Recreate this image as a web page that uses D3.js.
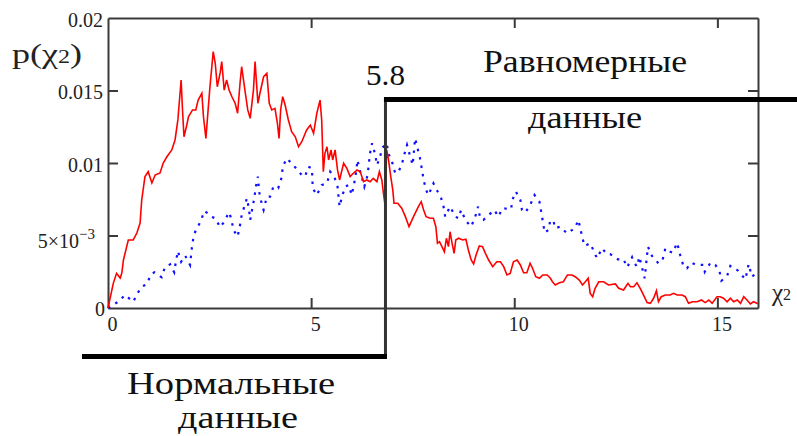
<!DOCTYPE html>
<html><head><meta charset="utf-8"><script src="https://cdn.jsdelivr.net/npm/d3@7"></script></head>
<body style="margin:0">
<svg id="s" width="797" height="436"></svg>
<script>
// ---- Data ----
const redX = [0,0.13,0.21,0.30,0.34,0.38,0.46,0.50,0.62,0.71,0.79,0.83,0.91,0.99,1.08,1.16,1.28,1.36,1.45,1.57,1.65,1.72,1.80,1.83,1.87,1.94,1.98,2.08,2.16,2.22,2.31,2.35,2.41,2.47,2.51,2.59,2.64,2.69,2.76,2.80,2.86,2.92,2.98,3.05,3.13,3.19,3.25,3.29,3.37,3.44,3.50,3.58,3.62,3.69,3.74,3.83,3.91,3.97,4.03,4.11,4.17,4.21,4.25,4.30,4.36,4.44,4.52,4.61,4.69,4.77,4.89,4.98,5.06,5.14,5.22,5.26,5.30,5.34,5.39,5.43,5.49,5.53,5.59,5.65,5.70,5.76,5.80,5.88,5.96,6.04,6.13,6.21,6.29,6.37,6.45,6.53,6.62,6.68,6.74,6.78,6.82,6.86,6.90,6.96,7.01,7.04,7.13,7.23,7.32,7.41,7.52,7.64,7.71,7.77,7.83,7.93,8.01,8.07,8.11,8.16,8.22,8.28,8.33,8.38,8.42,8.47,8.52,8.56,8.63,8.73,8.81,8.87,8.94,9.00,9.06,9.14,9.22,9.29,9.37,9.47,9.57,9.66,9.74,9.82,9.90,9.98,10.07,10.15,10.23,10.31,10.39,10.45,10.53,10.62,10.70,10.81,10.89,10.94,11.01,11.11,11.21,11.31,11.42,11.50,11.60,11.68,11.75,11.82,11.87,11.93,11.99,12.08,12.20,12.32,12.49,12.57,12.69,12.80,12.86,12.94,13.02,13.10,13.18,13.27,13.35,13.43,13.50,13.55,13.62,13.72,13.84,13.92,14.01,14.13,14.21,14.29,14.39,14.50,14.61,14.70,14.79,14.87,14.99,15.07,15.15,15.24,15.32,15.40,15.49,15.57,15.65,15.73,15.81,15.89,15.98,16.00];
const redY = [0,1.70,2.39,2.07,2.41,3.31,4.23,4.69,4.69,5.17,5.86,7.45,9.06,9.40,8.62,9.17,9.31,10.00,10.43,10.90,11.59,12.97,15.72,13.88,11.81,12.62,13.19,13.66,13.66,14.34,14.81,13.19,11.70,13.88,15.26,17.68,16.88,15.26,16.21,16.99,15.03,15.72,15.03,14.57,14.12,13.43,15.50,16.64,15.03,13.66,13.08,15.03,16.99,14.12,14.81,15.95,16.19,14.12,13.66,13.77,12.74,11.70,13.66,14.57,14.00,12.97,12.16,11.81,11.12,11.47,12.28,12.62,12.05,13.43,14.34,12.97,9.40,10.67,11.12,10.21,10.90,10.21,10.90,9.52,8.83,9.52,9.98,9.63,9.06,9.29,9.52,9.40,8.71,8.83,8.71,8.94,8.71,9.40,8.83,7.91,7.10,10.90,10.32,9.06,8.14,7.22,7.22,6.88,6.30,5.61,6.30,6.99,7.33,6.76,6.30,6.19,6.19,5.61,4.46,4.57,4.23,3.88,4.81,4.23,5.26,4.46,3.77,4.69,4.81,4.69,4.74,4.00,3.31,3.03,3.66,4.28,4.23,3.77,3.31,2.85,3.19,3.19,2.85,2.28,2.39,3.19,3.31,2.97,2.43,2.43,3.08,2.74,2.16,2.05,2.28,2.28,2.05,1.81,1.59,1.74,1.81,2.28,2.28,2.16,1.93,1.59,1.81,2.05,1.01,0.78,1.36,1.81,1.81,1.59,1.66,1.36,1.24,1.70,1.47,1.47,1.74,1.36,0.90,0.37,0.32,0.67,1.19,0.43,0.78,0.90,0.90,1.01,0.90,0.90,0.78,0.32,0.43,0.43,0.55,0.37,0.55,0.32,0.78,0.78,0.67,0.43,0.67,0.43,0.55,0.32,0.78,0.55,0.28,0.43,0.32,0.32].map(v => v / 1000);

const blueX = [0,0.25,0.42,0.62,0.75,0.83,0.95,1.06,1.14,1.32,1.40,1.53,1.63,1.67,1.72,1.80,1.90,2.02,2.06,2.10,2.16,2.28,2.37,2.46,2.54,2.64,2.76,2.86,2.98,3.03,3.09,3.19,3.25,3.29,3.42,3.47,3.50,3.60,3.64,3.69,3.72,3.79,3.83,3.91,3.99,4.07,4.19,4.28,4.30,4.40,4.56,4.77,4.85,4.93,5.02,5.04,5.14,5.26,5.39,5.47,5.57,5.65,5.70,5.76,5.84,5.92,6.00,6.06,6.11,6.14,6.21,6.31,6.39,6.45,6.50,6.58,6.62,6.70,6.74,6.86,6.90,6.99,7.07,7.15,7.23,7.29,7.36,7.44,7.50,7.56,7.62,7.68,7.73,7.77,7.83,7.89,8.01,8.07,8.20,8.26,8.30,8.42,8.55,8.63,8.69,8.81,8.94,9.04,9.11,9.16,9.24,9.37,9.51,9.61,9.71,9.92,9.96,10.04,10.15,10.19,10.27,10.39,10.50,10.62,10.67,10.75,10.84,10.89,10.97,11.01,11.13,11.30,11.49,11.58,11.67,11.73,11.87,12.00,12.04,12.16,12.28,12.36,12.55,12.69,12.78,12.90,12.94,13.02,13.08,13.15,13.21,13.24,13.29,13.39,13.55,13.65,13.72,13.79,13.90,14.01,14.09,14.17,14.25,14.36,14.48,14.66,14.69,14.83,14.95,15.05,15.10,15.24,15.32,15.49,15.69,15.77,15.85,16.00];
const blueY = [0,0.43,0.90,0.43,1.12,1.47,1.63,2.32,2.46,2.12,2.81,3.01,2.46,3.19,3.93,3.19,3.61,2.97,4.05,4.81,5.38,5.95,6.69,6.53,6.30,6.19,5.57,5.95,6.60,6.19,5.38,4.92,5.72,6.41,7.57,6.81,6.07,7.57,8.37,9.06,8.02,7.10,6.76,7.68,7.68,8.37,8.26,9.06,9.74,10.32,9.86,9.17,9.06,9.74,9.63,8.26,7.79,8.48,8.60,9.40,9.06,8.37,6.99,7.68,8.37,8.48,7.79,8.60,9.40,10.21,9.40,8.37,9.17,10.67,11.36,10.55,9.86,10.43,11.01,11.36,10.67,10.09,9.29,9.40,9.86,10.55,11.24,10.43,9.86,11.70,11.01,10.32,9.52,8.83,8.14,7.79,8.60,8.26,7.57,6.99,6.30,6.99,6.30,6.19,6.76,6.00,5.61,6.30,6.99,6.19,6.07,6.41,6.76,6.30,6.88,6.81,7.50,8.02,7.45,6.76,6.57,7.10,7.79,7.33,6.53,5.19,5.38,6.07,5.95,5.50,5.61,5.15,5.50,6.07,4.92,4.28,4.46,3.66,3.43,4.12,3.72,3.72,3.36,3.36,2.81,3.50,3.19,2.85,3.54,2.74,2.05,2.85,4.23,3.59,3.08,3.31,4.12,3.93,3.81,4.50,3.59,2.85,2.74,3.12,2.97,2.97,2.50,3.12,2.97,2.57,1.88,2.21,2.90,2.62,1.98,3.03,2.16,2.50].map(v => v / 1000);

const xDomain = [0, 16];
const yDomain = [0, 0.02];
const xTickValues = [0, 5, 10, 15];
const xTickLabels = ["0", "5", "10", "15"];
const yTickValues = [0, 0.005, 0.01, 0.015, 0.02];
const yTickLabels = ["0", "5×10|−3", "0.01", "0.015", "0.02"];

// boundary ("5.8") step between normal and uniform data, in data units
const stepX = 6.83;
const upperLevel = 0.01438;
const lowerLevel = -0.00334;
const stepStartX = -0.64;
const stepEndX = 16.98;

const svg = d3.select("#s");
const W = 797, H = 436;
const margin = {left: 108, top: 18, right: 39, bottom: 128};
const x = d3.scaleLinear().domain(xDomain).range([margin.left, W - margin.right]);
const y = d3.scaleLinear().domain(yDomain).range([H - margin.bottom, margin.top]);

const axisColor = "#3a3a3a";
const labelColor = "#222";
const FONT = "'Liberation Serif', monospace";

// Texts first (same way as a plain text page)
function addText(txt, x0, yb, size, w) {
  const t = svg.append("text").attr("x", x0).attr("y", yb)
    .style("font-family", FONT).style("font-size", size + "px").attr("fill", "#111").text(txt);
  if (w) t.attr("textLength", w).attr("lengthAdjust", "spacingAndGlyphs");
  return t;
}
addText("5.8", 366, 85, 29, 39);
addText("Равномерные", 483, 72, 32, 204);
addText("данные", 528, 128, 32, 114);
addText("Нормальные", 127, 394, 32, 208);
addText("данные", 178, 428, 32, 120);

const yLab = svg.append("text").attr("x", 12).attr("y", 63)
  .style("font-family", FONT).style("font-size", "27px").attr("fill", labelColor)
  .attr("textLength", 70).attr("lengthAdjust", "spacingAndGlyphs");
yLab.append("tspan").text("p(χ");
yLab.append("tspan").style("font-size", "18px").text("2");
yLab.append("tspan").text(")");

const xLab = svg.append("text").attr("x", 772).attr("y", 301)
  .style("font-family", FONT).style("font-size", "25px").attr("fill", labelColor);
xLab.append("tspan").text("χ");
xLab.append("tspan").style("font-size", "16px").attr("dy", -1).text("2");

function styleAxis(g) {
  g.attr("font-family", null).attr("font-size", null);
  g.selectAll("path.domain").attr("stroke", axisColor).attr("stroke-width", 2);
  g.selectAll(".tick line").attr("stroke", axisColor).attr("stroke-width", 2);
  g.selectAll("text").attr("fill", labelColor).style("font-family", FONT).style("font-size", "20px");
}

const gx = svg.append("g").attr("transform", `translate(0,${y(0)})`)
  .call(d3.axisBottom(x).tickValues(xTickValues).tickFormat((d, i) => xTickLabels[i])
    .tickSizeInner(-10).tickSizeOuter(0).tickPadding(9));
styleAxis(gx);
gx.selectAll("text").attr("dx", 4);
gx.selectAll(".tick").filter(d => d === 0).select("line").remove();

const gxt = svg.append("g").attr("transform", `translate(0,${y(yDomain[1])})`)
  .call(d3.axisTop(x).tickValues(xTickValues.filter(v => v > 0)).tickFormat("")
    .tickSizeInner(-10).tickSizeOuter(0));
styleAxis(gxt);

const gy = svg.append("g").attr("transform", `translate(${x(0)},0)`)
  .call(d3.axisLeft(y).tickValues(yTickValues).tickFormat((d, i) => yTickLabels[i])
    .tickSizeInner(-10).tickSizeOuter(0).tickPadding(5));
styleAxis(gy);
gy.selectAll(".tick").filter(d => d === 0 || d === 0.02).select("line").remove();
gy.selectAll(".tick text").attr("dy", "0.42em");
gy.selectAll(".tick text").each(function () {
  const t = d3.select(this);
  const s = t.text();
  if (s.includes("|")) {
    const [base, exp] = s.split("|");
    t.text(null).attr("x", -13).attr("dy", "0.62em");
    t.append("tspan").text(base);
    t.append("tspan").style("font-size", "15px").attr("dy", -9).text(exp);
  }
});
gy.selectAll(".tick").filter(d => d === 0).select("text").attr("x", -3).attr("dy", "0.38em");

const gyr = svg.append("g").attr("transform", `translate(${x(xDomain[1])},0)`)
  .call(d3.axisRight(y).tickValues(yTickValues.filter(v => v > 0 && v < 0.02)).tickFormat("")
    .tickSizeInner(-10).tickSizeOuter(0));
styleAxis(gyr);

const redData = redX.map((v, i) => [v, redY[i]]);
const blueData = blueX.map((v, i) => [v, blueY[i]]);
const line = d3.line().x(d => x(d[0])).y(d => y(d[1]));

svg.append("path").datum(blueData).attr("d", line)
  .attr("fill", "none").attr("stroke", "#1010ff").attr("stroke-width", 2.2)
  .attr("stroke-dasharray", "2.5,6");
svg.append("path").datum(redData).attr("d", line)
  .attr("fill", "none").attr("stroke", "#ff0000").attr("stroke-width", 1.6);

svg.append("line")
  .attr("x1", x(stepX)).attr("x2", x(stepX))
  .attr("y1", y(upperLevel) - 2).attr("y2", y(lowerLevel) + 2)
  .attr("stroke", "#333").attr("stroke-width", 3);
svg.append("line")
  .attr("x1", x(stepX) - 1.5).attr("x2", x(stepEndX))
  .attr("y1", y(upperLevel)).attr("y2", y(upperLevel))
  .attr("stroke", "#000").attr("stroke-width", 5);
svg.append("line")
  .attr("x1", x(stepStartX)).attr("x2", x(stepX) + 1.5)
  .attr("y1", y(lowerLevel)).attr("y2", y(lowerLevel))
  .attr("stroke", "#000").attr("stroke-width", 5);
</script>
</body>
</html>
